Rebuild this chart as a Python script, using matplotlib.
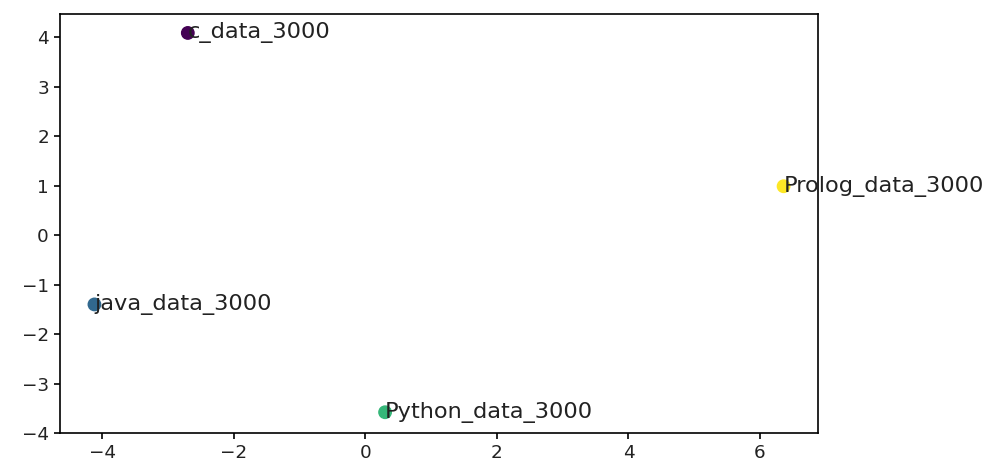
import matplotlib
matplotlib.use("Agg")
import matplotlib.pyplot as plt

labels = ["c_data_3000", "java_data_3000", "Python_data_3000", "Prolog_data_3000"]
xs = [-2.70, -4.12, 0.30, 6.36]
ys = [4.09, -1.40, -3.58, 0.99]
colors = [0, 1, 2, 3]

plt.rcParams['font.size'] = 13.2
plt.rcParams['axes.linewidth'] = 1.2
plt.rcParams['xtick.major.width'] = 1.2
plt.rcParams['ytick.major.width'] = 1.2
plt.rcParams['xtick.major.size'] = 4.5
plt.rcParams['ytick.major.size'] = 4.5
plt.rcParams['text.color'] = '#222222'
plt.rcParams['xtick.labelcolor'] = '#222222'
plt.rcParams['ytick.labelcolor'] = '#222222'

fig = plt.figure(figsize=(9.85, 4.66), dpi=100)
ax = fig.add_axes([0.0609, 0.0708, 0.7696, 0.8992])
ax.scatter(xs, ys, c=colors, cmap="viridis", s=80)
for lab, x, y in zip(labels, xs, ys):
    ax.annotate(lab, (x, y), fontsize=16.2, va='center', annotation_clip=False)
ax.set_xticks([-4, -2, 0, 2, 4, 6])
ax.set_yticks([-4, -3, -2, -1, 0, 1, 2, 3, 4])
fig.savefig("out.png", dpi=100)
